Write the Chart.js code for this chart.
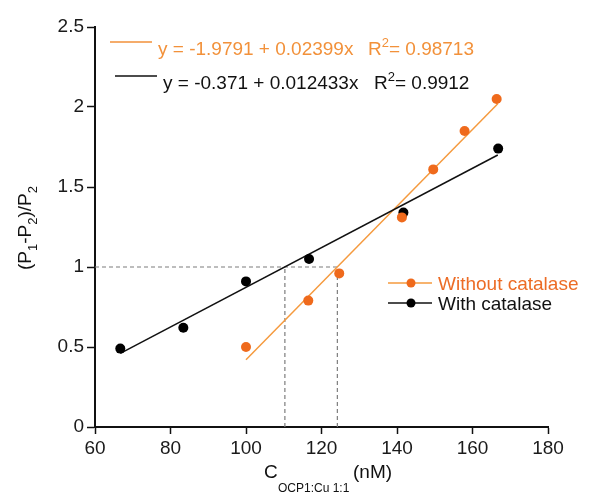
<!DOCTYPE html>
<html lang="en">
  <head>
    <meta charset="UTF-8" />
    <title>Relative change vs concentration</title>
    <script src="https://cdn.jsdelivr.net/npm/chart.js"></script>
    <style>
      body { margin: 0; background: #fff; }
      #wrap { width: 589px; height: 492px; }
    </style>
  </head>
  <body>
    <div id="wrap"><canvas id="fitChart"></canvas></div>
    <script>
      // measured points
      var noCatX = [100, 116.5, 124.7, 141.3, 149.6, 157.9, 166.4];
      var noCatY = [0.50, 0.79, 0.96, 1.31, 1.61, 1.85, 2.05];
      var withCatX = [66.7, 83.4, 100, 116.7, 141.7, 166.8];
      var withCatY = [0.49, 0.62, 0.91, 1.05, 1.34, 1.74];

      // fitted line ends
      var noCatFitX = [100, 166.7];
      var noCatFitY = [0.42, 2.02];
      var withCatFitX = [66.7, 166.7];
      var withCatFitY = [0.46, 1.70];

      // dashed guides at y = 1
      var guideHX = [60, 124.2];
      var guideHY = [1, 1];
      var guideV1X = [110.3, 110.3];
      var guideV2X = [124.2, 124.2];
      var guideVY = [0, 1];

      var xTicks = [60, 80, 100, 120, 140, 160, 180];
      var yTicks = [0, 0.5, 1, 1.5, 2, 2.5];

      var ORANGE_DOT = "#ef6a1c";
      var ORANGE_LINE = "#f59a3e";
      var ORANGE_TEXT = "#f2913a";
      var FONT = "'Liberation Sans', Arial, sans-serif";

      function pts(xs, ys) {
        return xs.map(function (x, i) { return { x: x, y: ys[i] }; });
      }

      function guide(xs, ys) {
        return {
          type: "line", data: pts(xs, ys), borderColor: "#7d7d7d", borderWidth: 1.2,
          borderDash: [4, 3], pointRadius: 0, fill: false, order: 3
        };
      }

      var annotations = {
        id: "annotations",
        afterDraw: function (chart) {
          var ctx = chart.ctx;
          ctx.save();
          ctx.textBaseline = "alphabetic";
          ctx.textAlign = "left";

          // equations
          function equation(color, lineY, x0, x1, tx, ty, eq, rx, r2) {
            ctx.strokeStyle = color;
            ctx.lineWidth = 1.5;
            ctx.beginPath(); ctx.moveTo(x0, lineY); ctx.lineTo(x1, lineY); ctx.stroke();
            ctx.fillStyle = color;
            ctx.font = "19px " + FONT;
            ctx.fillText(eq, tx, ty);
            ctx.fillText("R", rx, ty);
            var w = ctx.measureText("R").width;
            ctx.font = "13px " + FONT;
            ctx.fillText("2", rx + w, ty - 8);
            var w2 = ctx.measureText("2").width;
            ctx.font = "19px " + FONT;
            ctx.fillText("= " + r2, rx + w + w2, ty);
          }
          equation(ORANGE_TEXT, 42, 110, 152, 158, 55, "y = -1.9791 + 0.02399x", 368, "0.98713");
          equation("#111", 76, 115, 157, 163, 89, "y = -0.371 + 0.012433x", 374, "0.9912");

          // legend
          function legendRow(lineColor, dotColor, textColor, y, label) {
            ctx.strokeStyle = lineColor;
            ctx.lineWidth = 1.5;
            ctx.beginPath(); ctx.moveTo(388, y); ctx.lineTo(432, y); ctx.stroke();
            ctx.fillStyle = dotColor;
            ctx.beginPath(); ctx.arc(411, y, 4.5, 0, Math.PI * 2); ctx.fill();
            ctx.fillStyle = textColor;
            ctx.font = "19px " + FONT;
            ctx.fillText(label, 438, y + 7);
          }
          legendRow(ORANGE_LINE, ORANGE_DOT, "#ec6c26", 283, "Without catalase");
          legendRow("#111", "#000", "#111", 303, "With catalase");

          // x title (subscript runs off the bottom edge)
          ctx.fillStyle = "#111";
          ctx.font = "19px " + FONT;
          ctx.fillText("C", 264, 478);
          ctx.font = "12px " + FONT;
          ctx.fillText("OCP1:Cu 1:1", 278, 492);
          ctx.font = "19px " + FONT;
          ctx.fillText("(nM)", 353, 478);

          // y title, rotated
          ctx.translate(31, 270);
          ctx.rotate(-Math.PI / 2);
          var parts = [["(P", 0], ["1", 1], ["-P", 0], ["2", 1], [")/P", 0], ["2", 1]];
          var cx = 0;
          parts.forEach(function (p) {
            ctx.font = (p[1] ? "13px " : "19px ") + FONT;
            ctx.fillText(p[0], cx, p[1] ? 6 : 0);
            cx += ctx.measureText(p[0]).width;
          });
          ctx.restore();
        }
      };

      var ctx = document.getElementById("fitChart").getContext("2d");
      new Chart(ctx, {
        type: "scatter",
        data: {
          datasets: [
            { label: "Without catalase", data: pts(noCatX, noCatY), backgroundColor: ORANGE_DOT,
              borderColor: ORANGE_DOT, pointRadius: 5, pointBorderWidth: 0, order: 0 },
            { label: "With catalase", data: pts(withCatX, withCatY), backgroundColor: "#000",
              borderColor: "#000", pointRadius: 5, pointBorderWidth: 0, order: 0 },
            { type: "line", label: "fit 1", data: pts(noCatFitX, noCatFitY), borderColor: ORANGE_LINE,
              borderWidth: 1.5, pointRadius: 0, fill: false, order: 2 },
            { type: "line", label: "fit 2", data: pts(withCatFitX, withCatFitY), borderColor: "#111",
              borderWidth: 1.5, pointRadius: 0, fill: false, order: 1 },
            guide(guideHX, guideHY),
            guide(guideV1X, guideVY),
            guide(guideV2X, guideVY)
          ]
        },
        options: {
          responsive: true,
          maintainAspectRatio: false,
          animation: false,
          layout: { padding: { top: 27, right: 41, left: 0, bottom: 0 } },
          plugins: { legend: { display: false }, tooltip: { enabled: false } },
          scales: {
            x: {
              type: "linear", min: 60, max: 180,
              afterBuildTicks: function (s) { s.ticks = xTicks.map(function (v) { return { value: v }; }); },
              afterFit: function (s) { s.height = 65; },
              ticks: { font: { size: 19, family: FONT }, color: "#1a1a1a", padding: 3, maxRotation: 0,
                callback: function (v) { return String(v); } },
              grid: { drawOnChartArea: false, drawTicks: true, tickLength: 7, tickColor: "#111", tickWidth: 1.5 },
              border: { display: true, color: "#111", width: 2 }
            },
            y: {
              min: 0, max: 2.5,
              afterBuildTicks: function (s) { s.ticks = yTicks.map(function (v) { return { value: v }; }); },
              afterFit: function (s) { s.width = 95; },
              ticks: { font: { size: 19, family: FONT }, color: "#1a1a1a", padding: 3,
                callback: function (v) { return String(v); } },
              grid: { drawOnChartArea: false, drawTicks: true, tickLength: 8, tickColor: "#111", tickWidth: 1.5 },
              border: { display: true, color: "#111", width: 2 }
            }
          }
        },
        plugins: [annotations]
      });
    </script>
  </body>
</html>
